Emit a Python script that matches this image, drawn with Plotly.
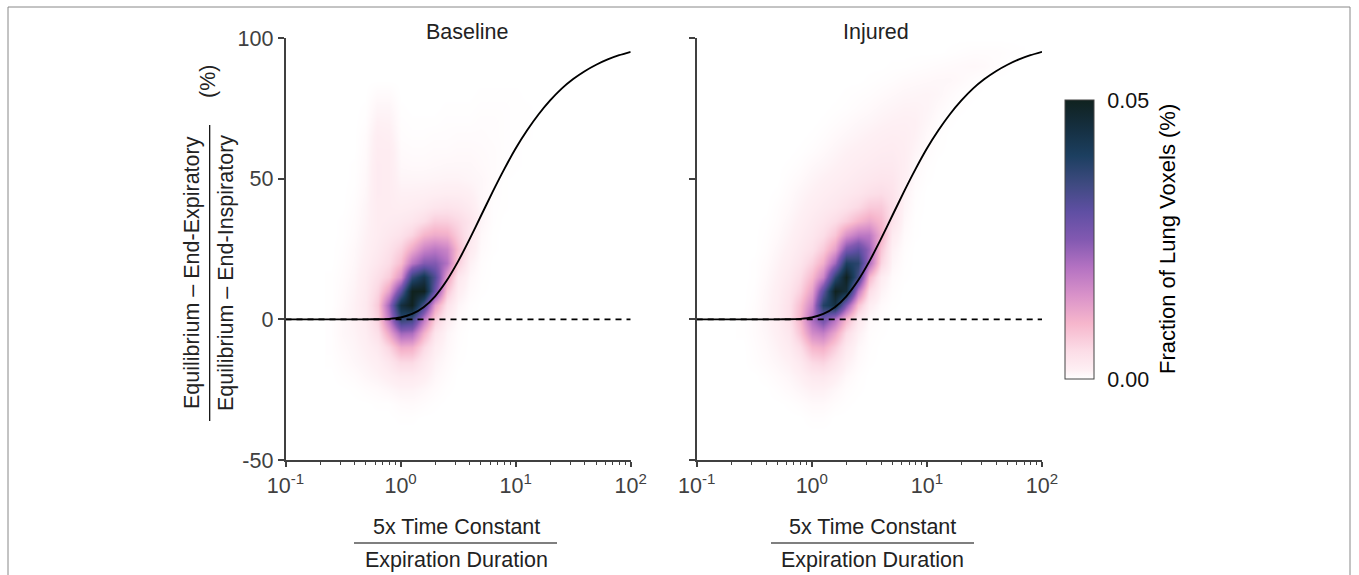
import numpy as np
import plotly.graph_objects as go

W, H = 1359, 575

# Log10 of the normalised time constant at each density column
baseline_logx = [-0.6,-0.5,-0.4,-0.3,-0.2,-0.1,0.0,0.1,0.2,0.3,0.4,0.5,0.6,0.7,0.8,0.9,1.0,1.1,1.2]
injured_logx = [-0.6,-0.5,-0.4,-0.3,-0.2,-0.1,0.0,0.1,0.2,0.3,0.4,0.5,0.6,0.7,0.8,0.9,1.0,1.1,1.2,1.3,1.4,1.5,1.6,1.7,1.8]
density_y = [-40,-35,-30,-25,-20,-15,-10,-5,0,5,10,15,20,25,30,35,40,45,50,55,60,65,70,75,80,85,90,95,100]

# Fraction of lung voxels, in units of 0.0001 % (rows follow density_y)
baseline_density = [
 [0,0,0,0,0,0,0,0,0,0,0,0,0,0,0,0,0,0,0],
 [0,0,0,0,0,0,1,1,0,0,0,0,0,0,0,0,0,0,0],
 [0,0,0,0,1,1,4,5,3,1,0,0,0,0,0,0,0,0,0],
 [0,0,1,3,5,8,12,12,8,4,1,0,0,0,0,0,0,0,0],
 [0,2,4,8,12,18,26,26,18,8,3,0,0,0,0,0,0,0,0],
 [1,4,8,12,18,32,55,55,30,12,5,1,0,0,0,0,0,0,0],
 [2,6,10,16,28,60,115,110,55,20,8,2,0,0,0,0,0,0,0],
 [2,8,12,20,45,120,220,210,105,35,10,3,0,0,0,0,0,0,0],
 [2,8,14,25,65,190,370,350,190,70,20,5,1,0,0,0,0,0,0],
 [1,6,14,28,75,220,450,500,330,130,40,10,2,0,0,0,0,0,0],
 [1,5,12,25,60,130,300,500,500,280,80,20,5,1,0,0,0,0,0],
 [1,4,10,22,45,70,150,360,430,320,130,32,8,2,0,0,0,0,0],
 [0,3,8,18,32,50,90,190,250,250,200,70,14,3,0,0,0,0,0],
 [0,2,7,15,26,40,65,115,170,190,170,90,25,5,1,0,0,0,0],
 [0,1,5,13,22,30,40,60,100,115,110,70,30,7,1,0,0,0,0],
 [0,1,4,11,22,24,28,34,48,70,68,55,35,10,2,0,0,0,0],
 [0,0,3,10,22,22,20,22,26,34,38,34,24,9,2,1,0,0,0],
 [0,0,2,8,24,22,15,15,16,18,20,20,16,8,3,1,0,0,0],
 [0,0,1,7,24,22,10,10,10,11,12,12,10,8,4,1,0,0,0],
 [0,0,1,6,24,22,7,6,6,7,8,8,8,6,4,2,1,0,0],
 [0,0,0,5,22,22,5,4,4,5,5,6,6,5,4,2,1,0,0],
 [0,0,0,4,20,18,3,2,2,3,3,4,4,4,3,2,1,1,0],
 [0,0,0,2,15,14,2,1,1,1,2,2,2,3,3,2,1,1,0],
 [0,0,0,1,10,10,1,0,0,0,1,1,1,2,2,2,1,1,0],
 [0,0,0,0,5,5,0,0,0,0,0,0,0,1,1,1,1,0,0],
 [0,0,0,0,0,0,0,0,0,0,0,0,0,0,0,0,0,0,0],
 [0,0,0,0,0,0,0,0,0,0,0,0,0,0,0,0,0,0,0],
 [0,0,0,0,0,0,0,0,0,0,0,0,0,0,0,0,0,0,0],
 [0,0,0,0,0,0,0,0,0,0,0,0,0,0,0,0,0,0,0],
]
injured_density = [
 [0,0,0,0,0,0,0,0,0,0,0,0,0,0,0,0,0,0,0,0,0,0,0,0,0],
 [0,0,0,0,0,0,2,2,0,0,0,0,0,0,0,0,0,0,0,0,0,0,0,0,0],
 [0,0,0,0,1,3,6,6,3,1,0,0,0,0,0,0,0,0,0,0,0,0,0,0,0],
 [0,0,0,2,5,9,14,14,8,3,1,0,0,0,0,0,0,0,0,0,0,0,0,0,0],
 [0,0,2,5,9,16,28,30,18,7,2,0,0,0,0,0,0,0,0,0,0,0,0,0,0],
 [0,2,5,9,15,28,55,62,38,15,5,1,0,0,0,0,0,0,0,0,0,0,0,0,0],
 [0,3,7,13,24,48,100,110,70,28,8,2,0,0,0,0,0,0,0,0,0,0,0,0,0],
 [1,4,9,17,32,80,160,180,120,50,15,3,1,0,0,0,0,0,0,0,0,0,0,0,0],
 [1,4,11,20,42,100,210,280,200,100,30,6,2,0,0,0,0,0,0,0,0,0,0,0,0],
 [0,3,10,20,42,90,170,390,440,250,85,20,5,1,0,0,0,0,0,0,0,0,0,0,0],
 [0,2,9,18,36,65,130,300,500,460,190,50,12,3,0,0,0,0,0,0,0,0,0,0,0],
 [0,1,7,15,28,50,95,170,370,500,340,100,22,5,1,0,0,0,0,0,0,0,0,0,0],
 [0,1,5,12,22,36,65,110,220,400,380,210,60,10,2,0,0,0,0,0,0,0,0,0,0],
 [0,0,3,9,17,28,42,72,130,260,300,230,80,15,3,0,0,0,0,0,0,0,0,0,0],
 [0,0,2,6,13,22,32,48,80,150,190,190,110,25,5,1,0,0,0,0,0,0,0,0,0],
 [0,0,1,4,10,17,26,35,50,70,100,120,95,40,8,1,0,0,0,0,0,0,0,0,0],
 [0,0,0,3,7,13,20,26,32,42,55,75,75,45,11,2,0,0,0,0,0,0,0,0,0],
 [0,0,0,1,5,10,15,20,25,30,36,45,50,40,14,3,0,0,0,0,0,0,0,0,0],
 [0,0,0,0,3,6,11,15,19,23,28,32,36,34,18,5,1,0,0,0,0,0,0,0,0],
 [0,0,0,0,1,3,7,10,14,18,22,25,28,28,20,7,2,0,0,0,0,0,0,0,0],
 [0,0,0,0,0,1,3,6,10,14,17,20,23,24,20,11,4,1,0,0,0,0,0,0,0],
 [0,0,0,0,0,0,1,3,6,9,12,15,18,20,19,14,6,2,0,0,0,0,0,0,0],
 [0,0,0,0,0,0,0,1,3,5,8,10,13,15,16,15,9,3,1,0,0,0,0,0,0],
 [0,0,0,0,0,0,0,0,1,2,4,6,9,11,13,13,11,6,2,1,0,0,0,0,0],
 [0,0,0,0,0,0,0,0,0,1,2,3,5,7,9,10,11,9,5,2,1,0,0,0,0],
 [0,0,0,0,0,0,0,0,0,0,0,1,2,3,5,6,7,8,8,6,3,1,0,0,0],
 [0,0,0,0,0,0,0,0,0,0,0,0,0,1,1,2,3,4,5,6,7,6,3,1,0],
 [0,0,0,0,0,0,0,0,0,0,0,0,0,0,0,0,0,0,1,2,3,3,3,2,1],
 [0,0,0,0,0,0,0,0,0,0,0,0,0,0,0,0,0,0,0,0,0,0,0,0,0],
]

# Solid curve
curve_logx = [-1,-0.5,-0.3,-0.2,-0.1,0.0,0.1,0.2,0.3,0.4,0.5,0.6,0.7,0.8,0.9,1.0,1.1,1.2,1.3,1.4,1.5,1.6,1.7,1.8,1.9,2.0]
curve_y = [0,0,0,0.04,0.18,0.67,1.9,4.3,8.2,13.7,20.6,28.5,36.9,45.3,53.3,60.7,67.2,72.9,77.8,82.0,85.4,88.2,90.5,92.4,93.9,95.1]
dash_x = [0.1, 100]
dash_y = [0, 0]

panel_titles = ["Baseline", "Injured"]
y_ticks = [-50, 0, 50, 100]
y_tick_labels = ["-50", "0", "50", "100"]
x_ticks = [0.1, 1, 10, 100]
x_tick_labels = ["10<sup>-1</sup>", "10<sup>0</sup>", "10<sup>1</sup>", "10<sup>2</sup>"]
x_minor = [m * d for d in (0.1, 1, 10) for m in range(2, 10)]
cbar_labels = ["0.00", "0.05"]
cmax_units = 500

colorscale = [
 [0.00, "#ffffff"], [0.03, "#fef0f4"], [0.10, "#fcdde7"], [0.20, "#f6b6cc"],
 [0.30, "#d992c9"], [0.40, "#b472c2"], [0.50, "#8259b1"], [0.60, "#5f4fa3"],
 [0.70, "#3e4a80"], [0.80, "#1c3f60"], [0.90, "#152f40"], [1.00, "#10221f"],
]

FONT = "Liberation Sans, Arial, sans-serif"
FS = 21.5
AXC = "#404040"

def px(x):
    return x / W

def py(y):
    return 1 - y / H

fig = go.Figure()

for i, (lx, dens) in enumerate([(baseline_logx, baseline_density), (injured_logx, injured_density)]):
    xa, ya = ("x", "y") if i == 0 else ("x2", "y2")
    fig.add_trace(go.Heatmap(x=10 ** np.array(lx), y=density_y, z=np.array(dens) / 1e4,
                             coloraxis="coloraxis", zsmooth="best", xaxis=xa, yaxis=ya,
                             hoverinfo="skip"))
    fig.add_trace(go.Scatter(x=dash_x, y=dash_y, mode="lines", xaxis=xa, yaxis=ya, showlegend=False,
                             line=dict(color="#000000", width=1.7, dash="6px,5px")))
    fig.add_trace(go.Scatter(x=10 ** np.array(curve_logx, dtype=float), y=curve_y, mode="lines", xaxis=xa, yaxis=ya,
                             showlegend=False, line=dict(color="#000000", width=1.9, shape="spline", smoothing=0.6)))

xaxis_common = dict(type="log", range=[-1, 2], tickmode="array", tickvals=x_ticks, ticktext=x_tick_labels,
                    ticks="outside", ticklen=5, tickwidth=1.6, tickcolor=AXC, showline=True, linecolor=AXC,
                    linewidth=1.7, showgrid=False, zeroline=False, tickfont=dict(family=FONT, size=FS, color=AXC),
                    minor=dict(tickmode="array", tickvals=x_minor, ticks="outside", ticklen=3, tickwidth=1.3,
                               tickcolor=AXC, showgrid=False))
yaxis_common = dict(range=[-50, 100], tickmode="array", tickvals=y_ticks, ticktext=y_tick_labels, ticks="outside",
                    ticklen=6, tickwidth=1.6, tickcolor=AXC, showline=True, linecolor=AXC, linewidth=1.7,
                    showgrid=False, zeroline=False, tickfont=dict(family=FONT, size=FS, color=AXC),
                    domain=[py(460), py(38)])

annots = []
def text(x, y, s, angle=0, color="#222222", size=FS):
    annots.append(dict(xref="paper", yref="paper", x=px(x), y=py(y), text=s, showarrow=False, textangle=angle,
                       xanchor="center", yanchor="middle", font=dict(family=FONT, size=size, color=color)))

text(467, 32, panel_titles[0])
text(876, 32, panel_titles[1])
text(456, 527, "5x Time Constant")
text(456, 560, "Expiration Duration")
text(873, 527, "5x Time Constant")
text(873, 560, "Expiration Duration")
text(192, 273, "Equilibrium – End-Expiratory", angle=-90)
text(226, 273, "Equilibrium – End-Inspiratory", angle=-90)
text(208, 82, "(%)", angle=-90)
text(1168, 239, "Fraction of Lung Voxels (%)", angle=-90, color="#000000", size=22)

def seg(x0, y0, x1, y1, color="#000000", width=1.2):
    return dict(type="line", xref="paper", yref="paper", x0=px(x0), y0=py(y0), x1=px(x1), y1=py(y1),
                line=dict(color=color, width=width))

shapes = [seg(354, 543, 557, 543), seg(771, 543, 974, 543), seg(209.7, 125, 209.7, 421),
          dict(type="rect", xref="paper", yref="paper", x0=px(8), y0=py(7), x1=px(1350), y1=py(590),
               line=dict(color="#888888", width=1), layer="below")]

fig.update_layout(
    width=W, height=H, margin=dict(l=0, r=0, t=0, b=0, autoexpand=False), paper_bgcolor="#ffffff",
    plot_bgcolor="rgba(0,0,0,0)",
    showlegend=False, annotations=annots, shapes=shapes,
    xaxis=dict(domain=[px(285.5), px(630.7)], anchor="y", **xaxis_common),
    xaxis2=dict(domain=[px(696.7), px(1042)], anchor="y2", **xaxis_common),
    yaxis=dict(anchor="x", **yaxis_common),
    yaxis2=dict(anchor="x2", showticklabels=False, **yaxis_common),
    coloraxis=dict(cmin=0, cmax=cmax_units / 1e4, colorscale=colorscale,
                   colorbar=dict(thickness=29, thicknessmode="pixels", len=279, lenmode="pixels",
                                 x=px(1065), xanchor="left", xpad=0, y=py(100), yanchor="top", ypad=0,
                                 tickmode="array", tickvals=[0, cmax_units / 1e4], ticktext=cbar_labels,
                                 ticks="outside", ticklen=9, tickcolor="rgba(0,0,0,0)",
                                 tickfont=dict(family=FONT, size=FS, color="#111111"),
                                 outlinecolor="#444444", outlinewidth=1)),
)

fig.write_html("out.html", config=dict(displayModeBar=False),
               post_script="document.body.style.margin='0';document.body.style.overflow='hidden';")
